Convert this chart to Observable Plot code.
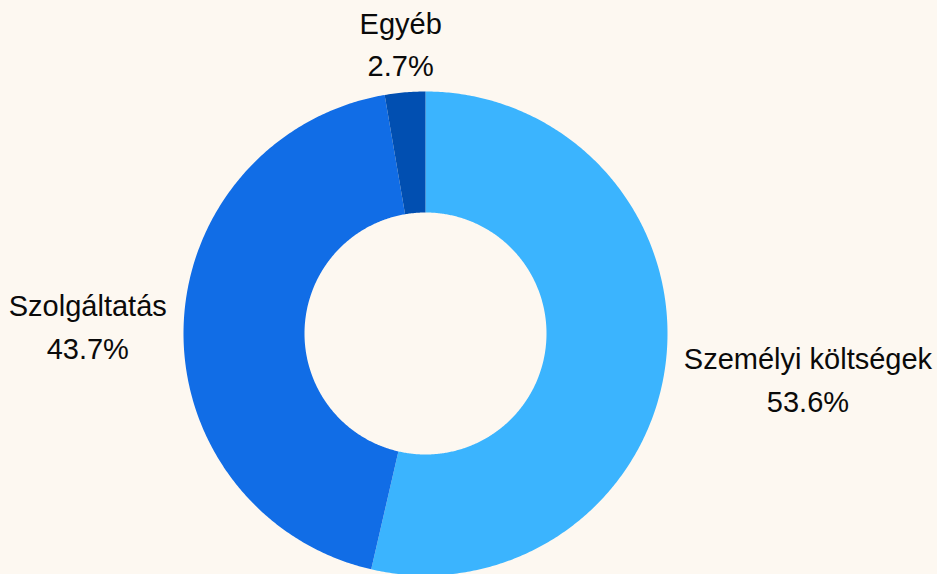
<!DOCTYPE html>
<html>
<head>
<meta charset="utf-8">
<script src="https://cdn.jsdelivr.net/npm/d3@7"></script>
<script src="https://cdn.jsdelivr.net/npm/@observablehq/plot@0.6"></script>
<style>
  html, body { margin: 0; padding: 0; background: #fdf8f1; }
  #chart { width: 937px; height: 574px; overflow: hidden; }
  svg { font-family: "Liberation Sans", Arial, Helvetica, sans-serif; }
</style>
</head>
<body>
<div id="chart"></div>
<script>
// Data
const categories = ["Személyi költségek", "Szolgáltatás", "Egyéb"];
const shares = [53.6, 43.7, 2.7];
const colors = ["#3bb4fe", "#116de6", "#014fb1"];

// Layout
const W = 937, H = 574;
const cx = 425, cy = 333, rOuter = 242, rInner = 121;
const labelR = 258, fontSize = 29, lineHeight = 1.47;
const fontFamily = '"Liberation Sans", Arial, Helvetica, sans-serif';

const data = categories.map((name, i) => ({name, value: shares[i]}));
const arcs = d3.pie().value(d => d.value).sort(null).startAngle(0).endAngle(2 * Math.PI)(data);

// polygon points for each slice (angles measured clockwise from top)
const pts = [];
const pt = (a, r) => [cx + r * Math.sin(a), cy - r * Math.cos(a)];
for (const a of arcs) {
  const n = Math.max(4, Math.ceil((a.endAngle - a.startAngle) / (Math.PI / 360)));
  for (let k = 0; k <= n; k++) {
    const t = a.startAngle + (a.endAngle - a.startAngle) * k / n;
    const [x, y] = pt(t, rOuter);
    pts.push({name: a.data.name, x, y});
  }
  for (let k = n; k >= 0; k--) {
    const t = a.startAngle + (a.endAngle - a.startAngle) * k / n;
    const [x, y] = pt(t, rInner);
    pts.push({name: a.data.name, x, y});
  }
}

// label placement: push text box outward along the mid-angle ray
const ctx = document.createElement("canvas").getContext("2d");
ctx.font = `${fontSize}px ${fontFamily}`;
const halfH = 32;
const labels = arcs.map(a => {
  const pct = a.data.value.toFixed(1) + "%";
  const text = a.data.name + "\n" + pct;
  const halfW = Math.max(ctx.measureText(a.data.name).width, ctx.measureText(pct).width) / 2;
  const mid = (a.startAngle + a.endAngle) / 2;
  const ux = Math.sin(mid), uy = -Math.cos(mid);
  const push = halfW * Math.abs(ux) + halfH * Math.abs(uy);
  return {text, x: cx + ux * (labelR + push), y: cy + uy * (labelR + push)};
});

const chart = Plot.plot({
  width: W,
  height: H,
  margin: 0,
  style: {background: "#fdf8f1", fontFamily},
  x: {domain: [0, W], range: [0, W], axis: null},
  y: {domain: [0, H], range: [0, H], axis: null},
  color: {type: "ordinal", domain: categories, range: colors},
  marks: [
    Plot.line(pts, {x: "x", y: "y", z: "name", fill: "name", stroke: "none", curve: "linear-closed"}),
    Plot.text(labels, {x: "x", y: "y", text: "text", textAnchor: "middle", lineAnchor: "middle",
      lineHeight, fontSize, fill: "#0a0a0a"})
  ]
});
document.getElementById("chart").appendChild(chart);
</script>
</body>
</html>
